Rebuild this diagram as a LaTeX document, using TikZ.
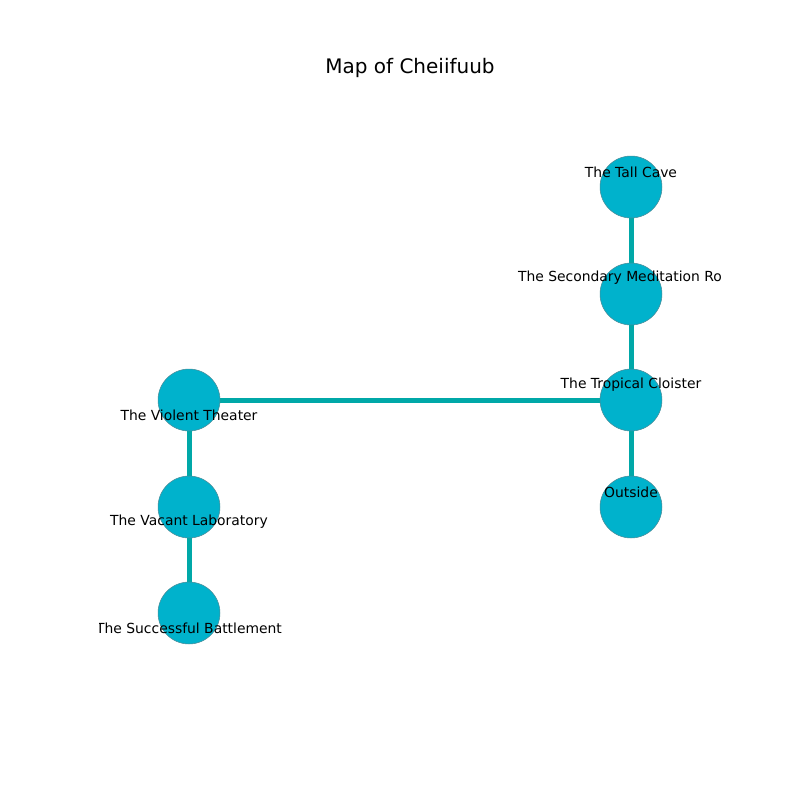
\documentclass[tikz,border=0pt]{standalone}
\usepackage{fontspec}
\setmainfont{DejaVu Sans}
\usetikzlibrary{backgrounds}
\definecolor{roomfill}{HTML}{00B2CC}
\definecolor{roomline}{HTML}{4A8C98}
\definecolor{pathcol}{HTML}{00A8A8}
\tikzset{
  room/.style={circle, fill=roomfill, draw=roomline, line width=0.4pt, minimum size=44.6pt, inner sep=0pt},
  passage/.style={pathcol, line width=3.6pt},
  roomlabel/.style={font=\fontsize{10}{12}\selectfont, inner sep=0pt}
}
\begin{document}
\begin{tikzpicture}[x=0.72pt, y=-0.72pt]
        \useasboundingbox (0,0) rectangle (800,800);

        % Title
        \node[font=\fontsize{14.4}{17}\selectfont] (title) at (410,68) {Map of Cheiifuub};

        % The Rooms
        \node[room] (cave) at (631,187) {};
        \node[room] (meditation) at (631,294) {};
        \node[room] (cloister) at (631,400) {};
        \node[room] (outside) at (631,507) {};
        \node[room] (theater) at (189,400) {};
        \node[room] (laboratory) at (189,507) {};
        \node[room] (battlement) at (189,613) {};

        % The Passages
        \begin{scope}[on background layer]
            \draw[passage] (cave.center) -- (meditation.center);
            \draw[passage] (meditation.center) -- (cloister.center);
            \draw[passage] (cloister.center) -- (outside.center);
            \draw[passage] (cloister.center) -- (theater.center);
            \draw[passage] (theater.center) -- (laboratory.center);
            \draw[passage] (laboratory.center) -- (battlement.center);
        \end{scope}

        % Labels (clipped to the axes)
        \begin{scope}
            \clip (99,96) rectangle (720,704);
            \node[roomlabel] (cavelabel) at (631,172) {The Tall Cave};
            \node[roomlabel] (meditationlabel) at (631,278) {The Secondary Meditation Room};
            \node[roomlabel] (cloisterlabel) at (631,385) {The Tropical Cloister};
            \node[roomlabel] (outsidelabel) at (631,492) {Outside};
            \node[roomlabel] (theaterlabel) at (189,415) {The Violent Theater};
            \node[roomlabel] (laboratorylabel) at (189,522) {The Vacant Laboratory};
            \node[roomlabel] (battlementlabel) at (189,628) {The Successful Battlement};
        \end{scope}
    \end{tikzpicture}
\end{document}
